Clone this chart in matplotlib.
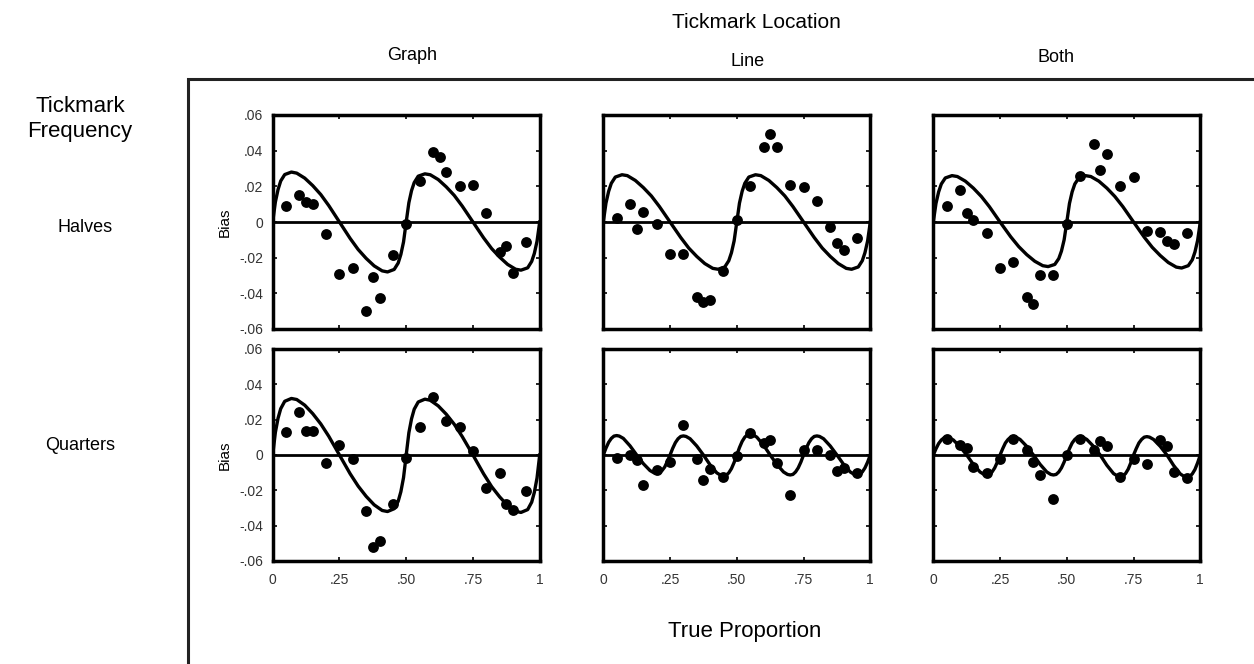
import matplotlib
matplotlib.use("Agg")
import matplotlib.pyplot as plt
from matplotlib.patches import Rectangle

plt.rcParams['font.family'] = ['Liberation Sans', 'DejaVu Sans']

col_names = ['Graph', 'Line', 'Both']
row_names = ['Halves', 'Quarters']

# judged proportions: true proportion (x) and bias (y)
pt_x = [0.05, 0.10, 0.125, 0.15, 0.20, 0.25, 0.30, 0.35, 0.375, 0.40, 0.45, 0.50,
        0.55, 0.60, 0.625, 0.65, 0.70, 0.75, 0.80, 0.85, 0.875, 0.90, 0.95]

bias_graph_halves = [0.009, 0.015, 0.011, 0.010, -0.0065, -0.029, -0.026, -0.050, -0.031, -0.0425, -0.0185, -0.001,
                     0.023, 0.039, 0.0365, 0.028, 0.020, 0.0205, 0.005, -0.017, -0.0135, -0.0285, -0.011]
bias_line_halves = [0.0022, 0.0103, -0.0039, 0.0054, -0.0009, -0.0178, -0.0178, -0.0422, -0.0449, -0.0436, -0.0273, 0.0009,
                    0.020, 0.0419, 0.0493, 0.0419, 0.0209, 0.0194, 0.012, -0.0028, -0.0118, -0.0159, -0.009]
bias_both_halves = [0.0092, 0.0178, 0.005, 0.0013, -0.0062, -0.0258, -0.0224, -0.0422, -0.0458, -0.0295, -0.0295, -0.0009,
                    0.026, 0.0437, 0.0293, 0.0381, 0.020, 0.025, -0.0052, -0.0056, -0.0105, -0.0121, -0.0062]
bias_graph_quarters = [0.0128, 0.0242, 0.0138, 0.0138, -0.0047, 0.0057, -0.0023, -0.0315, -0.0523, -0.0487, -0.0279, -0.0019,
                       0.0157, 0.0326, 0.0192, 0.0157, 0.0023, -0.0189, -0.0104, -0.0277, -0.0311, -0.0202]
bias_line_quarters = [-0.0019, 0.0, -0.0028, -0.017, -0.0085, -0.0038, 0.017, -0.0023, -0.0142, -0.0079, -0.0123, -0.0004,
                      0.0123, 0.0066, 0.0085, -0.0047, -0.0228, 0.0028, 0.0028, 0.0, -0.0089, -0.0075, -0.0104]
bias_both_quarters = [0.0091, 0.0057, 0.0042, -0.0066, -0.0104, -0.0023, 0.0091, 0.0028, -0.0042, -0.0113, -0.0251, 0.0,
                      0.0091, 0.0028, 0.0079, 0.0051, -0.0123, -0.0023, -0.0051, 0.0085, 0.0051, -0.0094, -0.0132]
# graph/quarters panel has one point fewer
pt_x_gq = [0.05, 0.10, 0.125, 0.15, 0.20, 0.25, 0.30, 0.35, 0.375, 0.40, 0.45, 0.50,
           0.55, 0.60, 0.65, 0.70, 0.75, 0.80, 0.85, 0.875, 0.90, 0.95]

# model curves
cx_half = [0, .01, .02, .03, .045, .07, .09, .12, .15, .18, .21, .25, .29, .32, .35, .38, .41, .43, .455, .47, .48, .49,
           .50, .51, .52, .53, .545, .57, .59, .62, .65, .68, .71, .75, .79, .82, .85, .88, .91, .93, .955, .97, .98, .99, 1.0]
cy_graph_halves = [0, .0112, .0182, .023, .0266, .028, .0274, .0246, .0204, .0154, .0092, 0, -.0092, -.0154, -.0204, -.0246,
                   -.0274, -.028, -.0266, -.023, -.0182, -.0112, 0,
                   .0108, .0176, .0221, .0257, .027, .0265, .0238, .0197, .0149, .0089, 0, -.0089, -.0149, -.0197, -.0238,
                   -.0265, -.027, -.0257, -.0221, -.0176, -.0108, 0]
cy_line_halves = [0, .0106, .0172, .0217, .0252, .0265, .026, .0233, .0193, .0146, .0087, 0, -.0087, -.0146, -.0193, -.0233,
                  -.026, -.0265, -.0252, -.0217, -.0172, -.0106, 0,
                  .0106, .0172, .0217, .0252, .0265, .026, .0233, .0193, .0146, .0087, 0, -.0087, -.0146, -.0193, -.0233,
                  -.026, -.0265, -.0252, -.0217, -.0172, -.0106, 0]
cy_both_halves = [0, .0104, .0169, .0213, .0247, .026, .0255, .0229, .019, .0143, .0086, 0, -.0083, -.0138, -.0183, -.022,
                  -.0245, -.025, -.0238, -.0205, -.0163, -.01, 0,
                  .0104, .0169, .0213, .0247, .026, .0255, .0229, .019, .0143, .0086, 0, -.0085, -.0142, -.0188, -.0227,
                  -.0253, -.0258, -.0245, -.0212, -.0168, -.0103, 0]
cy_graph_quarters = [0, .0128, .0208, .0262, .0304, .032, .0314, .0282, .0234, .0176, .0106, 0, -.0106, -.0176, -.0234, -.0282,
                     -.0314, -.032, -.0304, -.0262, -.0208, -.0128, 0,
                     .0126, .0205, .0259, .03, .0316, .031, .0278, .0231, .0174, .0104, 0, -.0107, -.0179, -.0237, -.0286,
                     -.0319, -.0325, -.0309, -.0267, -.0211, -.013, 0]

cx_quarter = [0, .01, .02, .03, .04, .05, .06, .075, .10, .125, .15, .175, .19, .20, .21, .22, .23, .24, .25,
              .26, .27, .28, .29, .30, .31, .325, .35, .375, .40, .425, .44, .45, .46, .47, .48, .49, .50,
              .51, .52, .53, .54, .55, .56, .575, .60, .625, .65, .675, .69, .70, .71, .72, .73, .74, .75,
              .76, .77, .78, .79, .80, .81, .825, .85, .875, .90, .925, .94, .95, .96, .97, .98, .99, 1.0]
cy_line_quarters = [0, .0039, .0072, .0094, .0107, .011, .0107, .0094, .0052, 0, -.0049, -.0088, -.0101, -.0104, -.0101, -.0088, -.0068, -.0036, 0,
                    .0038, .007, .0092, .0105, .0108, .0105, .0092, .0051, 0, -.0056, -.0101, -.0115, -.0119, -.0115, -.0101, -.0077, -.0042, 0,
                    .0042, .0077, .0101, .0115, .0119, .0115, .0101, .0056, 0, -.0053, -.0096, -.011, -.0113, -.011, -.0096, -.0073, -.004, 0,
                    .0038, .007, .0092, .0105, .0108, .0105, .0092, .0051, 0, -.0053, -.0096, -.011, -.0113, -.011, -.0096, -.0073, -.004, 0]
cy_both_quarters = [0, .0035, .0065, .0085, .0097, .01, .0097, .0085, .0047, 0, -.0053, -.0096, -.011, -.0113, -.011, -.0096, -.0073, -.004, 0,
                    .0036, .0068, .0088, .0101, .0104, .0101, .0088, .0049, 0, -.0053, -.0096, -.011, -.0113, -.011, -.0096, -.0073, -.004, 0,
                    .0036, .0068, .0088, .0101, .0104, .0101, .0088, .0049, 0, -.0058, -.0105, -.0119, -.0123, -.0119, -.0105, -.008, -.0043, 0,
                    .0036, .0068, .0088, .0101, .0104, .0101, .0088, .0049, 0, -.0059, -.0107, -.0122, -.0126, -.0122, -.0107, -.0082, -.0044, 0]

panels = [
    [(pt_x, bias_graph_halves, cx_half, cy_graph_halves),
     (pt_x, bias_line_halves, cx_half, cy_line_halves),
     (pt_x, bias_both_halves, cx_half, cy_both_halves)],
    [(pt_x_gq, bias_graph_quarters, cx_half, cy_graph_quarters),
     (pt_x, bias_line_quarters, cx_quarter, cy_line_quarters),
     (pt_x, bias_both_quarters, cx_quarter, cy_both_quarters)],
]

y_ticks = [-0.06, -0.04, -0.02, 0, 0.02, 0.04, 0.06]
y_ticklabels = ['-.06', '-.04', '-.02', '0', '.02', '.04', '.06']
x_ticks = [0, 0.25, 0.5, 0.75, 1]
x_ticklabels = ['0', '.25', '.50', '.75', '1']

W, H = 1254, 664
fig = plt.figure(figsize=(12.54, 6.64), dpi=100)

# outer frame
fig.add_artist(Rectangle((188 / W, -0.1), 1.0, 1 - 79 / H + 0.1, transform=fig.transFigure,
                         fill=False, lw=2.2, edgecolor='#222222'))

col_left = [272.7, 603.3, 933.3]
row_top = [115, 349]
row_h = [214, 212]
panel_w = 267

for r in range(2):
    for c in range(3):
        px, py, cx, cy = panels[r][c]
        ax = fig.add_axes([col_left[c] / W, 1 - (row_top[r] + row_h[r]) / H, panel_w / W, row_h[r] / H])
        ax.axhline(0, color='black', lw=2)
        ax.plot(cx, cy, color='black', lw=2.4, solid_joinstyle='round')
        ax.plot(px, py, 'o', color='black', ms=7.8, markeredgewidth=0)
        ax.set_xlim(0, 1)
        ax.set_ylim(-0.06, 0.06)
        ax.set_xticks(x_ticks)
        ax.set_yticks(y_ticks)
        ax.tick_params(direction='in', length=3, width=1.2, top=True, right=True,
                       labelsize=10, colors='black')
        ax.tick_params(axis='x', pad=9)
        ax.tick_params(axis='y', pad=7)
        for sp in ax.spines.values():
            sp.set_linewidth(2.5)
        if c == 0:
            ax.set_yticklabels(y_ticklabels, color='#333333')
            ax.set_ylabel('Bias', fontsize=11, labelpad=5)
        else:
            ax.set_yticklabels([])
        if r == 1:
            ax.set_xticklabels(x_ticklabels, color='#333333')
        else:
            ax.set_xticklabels([])

fig.text(756 / W, 1 - 22 / H, 'Tickmark Location', ha='center', va='center', fontsize=15)
fig.text(412 / W, 1 - 55 / H, col_names[0], ha='center', va='center', fontsize=13)
fig.text(748 / W, 1 - 62 / H, col_names[1], ha='center', va='center', fontsize=13)
fig.text(1056 / W, 1 - 57 / H, col_names[2], ha='center', va='center', fontsize=13)
fig.text(80 / W, 1 - 119 / H, 'Tickmark\nFrequency', ha='center', va='center', fontsize=16, linespacing=1.25)
fig.text(85 / W, 1 - 227 / H, row_names[0], ha='center', va='center', fontsize=13)
fig.text(80 / W, 1 - 445 / H, row_names[1], ha='center', va='center', fontsize=13)
fig.text(745 / W, 1 - 632 / H, 'True Proportion', ha='center', va='center', fontsize=16)

fig.savefig('out.png', dpi=100)
